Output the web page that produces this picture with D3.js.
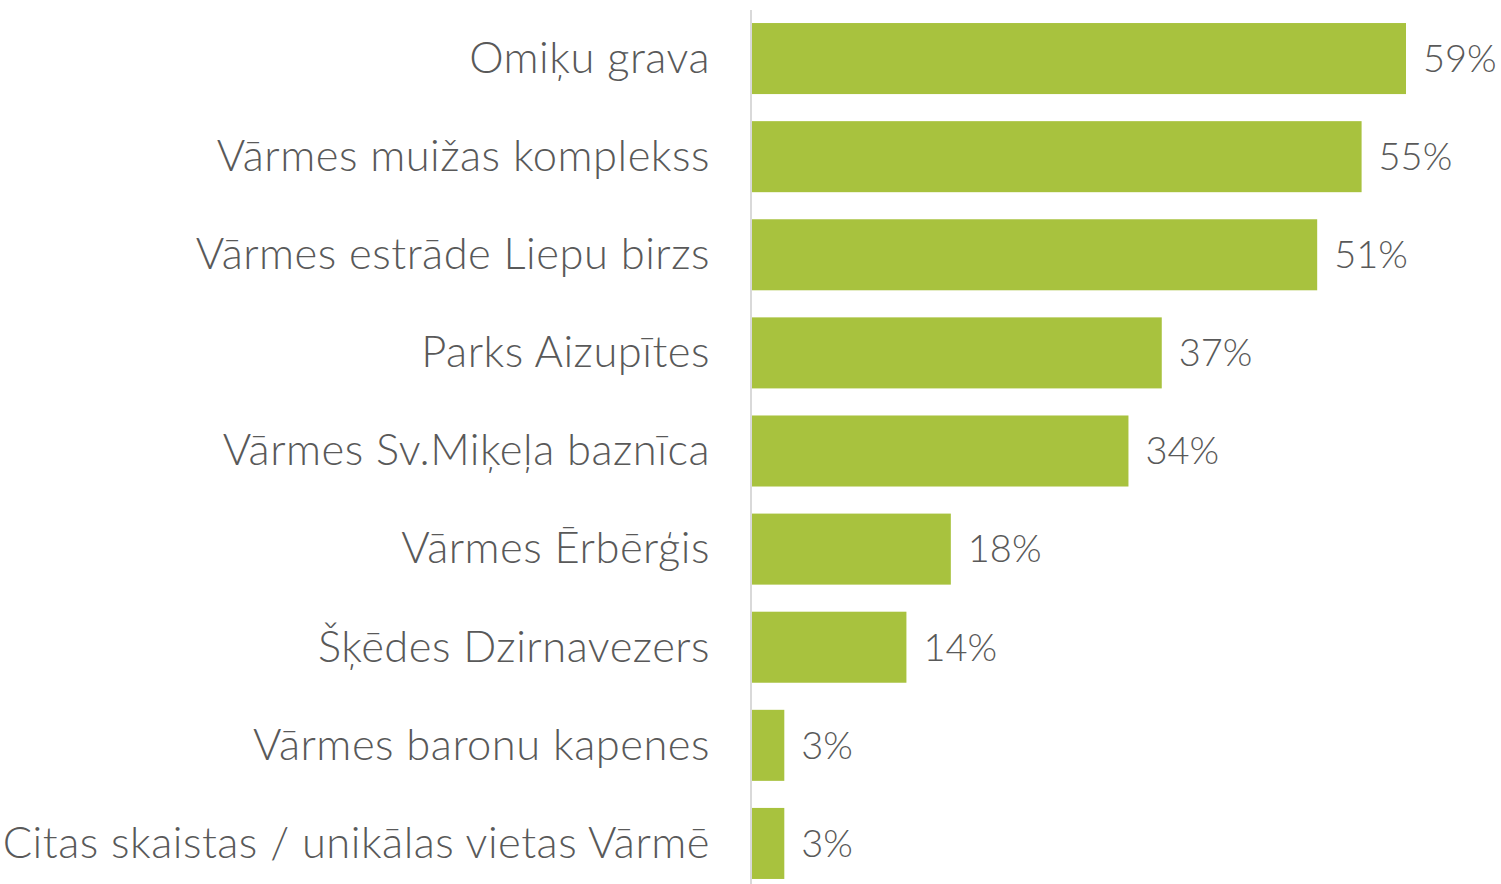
<!DOCTYPE html>
<html>
<head>
<meta charset="utf-8">
<script src="https://cdn.jsdelivr.net/npm/d3@7"></script>
<style>
  html, body { margin: 0; padding: 0; background: #fff; }
  svg { display: block; }
  text { font-family: "Lato", "Open Sans", sans-serif; font-weight: 300; fill: #595959; }
</style>
</head>
<body>
<svg id="chart" width="1501" height="884"></svg>
<script>
// Places and share of respondents (%)
const categories = [
  "Omiķu grava",
  "Vārmes muižas komplekss",
  "Vārmes estrāde Liepu birzs",
  "Parks Aizupītes",
  "Vārmes Sv.Miķeļa baznīca",
  "Vārmes Ērbērģis",
  "Šķēdes Dzirnavezers",
  "Vārmes baronu kapenes",
  "Citas skaistas / unikālas vietas Vārmē"
];
const values = [59, 55, 51, 37, 34, 18, 14, 3, 3];

const svg = d3.select("#chart");
const labelSize = 43.5;
const valueSize = 38;

const x = d3.scaleLinear().domain([0, 59]).range([751, 1406]);
const y = d3.scaleBand()
  .domain(categories)
  .range([9.5, 892.5])
  .paddingInner(0.276)
  .paddingOuter(0.138);

// bars
svg.selectAll("rect.bar")
  .data(categories)
  .join("rect")
  .attr("class", "bar")
  .attr("x", x(0))
  .attr("y", d => y(d))
  .attr("width", (d, i) => x(values[i]) - x(0))
  .attr("height", y.bandwidth())
  .attr("fill", "#A8C23E");

// category axis on the left
const yAxis = d3.axisLeft(y).tickSize(0).tickPadding(41);
const gy = svg.append("g")
  .attr("transform", `translate(${x(0)},0)`)
  .call(yAxis);
gy.select(".domain")
  .attr("stroke", "#d9d9d9")
  .attr("stroke-width", 2)
  .attr("d", "M0,10V884");
gy.selectAll(".tick text")
  .attr("font-size", labelSize)
  .attr("font-family", null)
  .attr("letter-spacing", "0.5px")
  .attr("fill", "#595959")
  .attr("dy", "0.33em");

// value labels
svg.selectAll("text.val")
  .data(categories)
  .join("text")
  .attr("class", "val")
  .attr("x", (d, i) => x(values[i]) + 17)
  .attr("y", d => y(d) + y.bandwidth() / 2)
  .attr("dy", "0.35em")
  .attr("font-size", valueSize)
  .text((d, i) => values[i] + "%");
</script>
</body>
</html>
